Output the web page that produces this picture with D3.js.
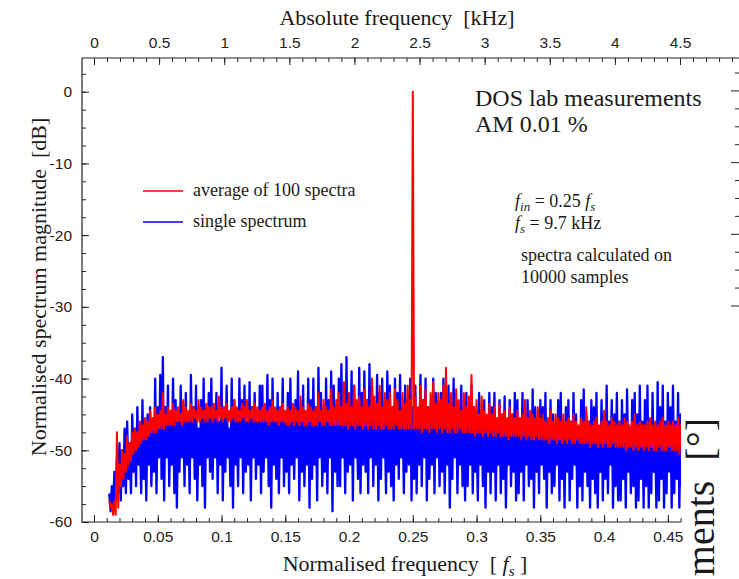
<!DOCTYPE html>
<html>
<head>
<meta charset="utf-8">
<script src="https://cdn.jsdelivr.net/npm/d3@7"></script>
<style>
  body { margin: 0; background: #fff; }
  svg { display: block; font-family: "Liberation Serif", "Times New Roman", serif; }
</style>
</head>
<body>
<svg id="chart"></svg>
<script>
// spectrum bins (normalised frequency), one high/low pair per bin
const binStart = 0.012;
const binStep = 0.002;

// single spectrum, upper and lower excursion per bin [dB]
const singleHigh = [
  -56, -55, -53, -51, -49, -50, -47, -46, -49, -45,
  -47, -44, -48, -43, -46, -45, -44, -47, -40, -44,
  -39.5, -37, -44, -41, -46, -40, -43, -45, -41, -44,
  -42, -46, -39.5, -44, -41, -47, -43, -40, -45, -42,
  -40, -45, -42, -46, -38.5, -44, -41, -47, -40, -43,
  -45, -40, -43, -41, -46, -40.5, -44, -42, -46, -41,
  -41, -45, -39.5, -43, -40, -46, -42, -44, -40, -45,
  -42, -40, -46, -43, -39, -44, -41, -45, -40, -43,
  -40, -44, -38.5, -42, -46, -40, -43, -39, -41, -45,
  -40, -38, -43, -37, -44, -39, -41, -45, -38.5, -42,
  -39, -43, -38, -41, -45, -39.5, -42, -40, -46, -39,
  -41, -44, -40, -42, -39.5, -45, -41, -43, -40, -44,
  -41, -45, -39.5, -43, -40, -44, -46, -40, -42, -44,
  -42, -40, -45, -41, -46, -40, -43, -45, -41, -44,
  -42, -46, -41, -44, -47, -42, -45, -43, -46, -42,
  -44, -42, -46, -43, -45, -42.5, -47, -43, -45, -42,
  -43, -46, -42, -45, -43, -47, -41.5, -44, -46, -43,
  -44, -42, -46, -43, -45, -47, -43, -42, -46, -44,
  -43, -46, -42, -45, -47, -43, -41.5, -45, -46, -43,
  -44, -42, -47, -43, -45, -41, -46, -43, -45, -42,
  -46, -43, -45, -41.5, -47, -43, -42, -45, -41, -46,
  -43, -41, -46, -42, -47, -40.5, -44, -41, -46, -42,
  -44, -41, -46, -42, -45
];
const singleLow = [
  -58.5, -58, -57, -56, -57, -55, -56, -54, -56, -53,
  -55, -52, -56, -54, -57, -52, -55, -53, -56, -51,
  -54, -57, -51, -55, -52, -56, -58, -53, -51, -55,
  -52, -56, -51, -54, -57, -52, -55, -58, -51, -53,
  -54, -51, -56, -52, -57, -53, -51, -55, -58, -52,
  -55, -51, -56, -53, -52, -57, -51, -54, -52, -56,
  -53, -51, -55, -58, -52, -54, -56, -51, -55, -53,
  -56, -52, -54, -51, -57, -53, -55, -52, -58, -54,
  -52, -57, -51, -55, -53, -56, -51, -58.5, -53, -55,
  -55, -51, -56, -53, -52, -57, -51, -54, -56, -52,
  -53, -56, -51, -55, -52, -57, -54, -51, -56, -53,
  -55, -57, -52, -54, -51, -56, -53, -52, -57, -54,
  -56, -52, -55, -51, -57, -54, -52, -56, -51, -55,
  -53, -56, -52, -58, -54, -51, -56, -52, -55, -57,
  -55, -52, -56, -53, -57, -52, -55, -58, -53, -56,
  -53, -57, -52, -56, -54, -58, -52, -55, -53, -57,
  -56, -53, -57, -52, -55, -54, -58, -53, -56, -52,
  -54, -58, -53, -56, -55, -52, -57, -54, -58, -53,
  -57, -54, -52, -58, -55, -57, -53, -55, -58, -54,
  -56, -58, -53, -57, -54, -56, -52, -58, -55, -57,
  -57, -54, -58, -53, -56, -55, -58, -57, -54, -58,
  -55, -58, -56, -53, -58, -57, -54, -58, -56, -53,
  -58, -56, -54, -58, -55
];

// average of 100 spectra, upper and lower excursion per bin [dB]
const averageHigh = [
  -57, -57.5, -57, -47.5, -52, -50, -50.5, -48, -49, -47.5,
  -47, -47.5, -46, -46.5, -45.5, -46, -44.5, -45.5, -44, -45,
  -44.5, -42, -45, -44, -44.5, -43.5, -44.5, -44, -45, -43,
  -44, -44.5, -43.5, -44, -44.5, -43, -44, -44.5, -43.5, -44,
  -44, -43.5, -44.5, -42.5, -44, -44, -43.5, -44.5, -44, -43,
  -44, -44.5, -43.5, -44, -43, -44.5, -44, -43.5, -44, -44.5,
  -44, -43.5, -44.5, -44, -43, -44, -44.5, -44, -43.5, -44.5,
  -44, -44.5, -43.5, -44, -44.5, -42.5, -44, -44.5, -43.5, -44,
  -44.5, -44, -42, -44.5, -43, -44, -44.5, -41.5, -44, -43,
  -42, -44, -40.5, -43.5, -42, -44, -41, -43, -42.5, -44,
  -41.5, -43, -44, -40, -42.5, -43.5, -41, -44, -42, -43,
  -42, -44, -41.5, -43, -44.5, -42, -43.5, -41, -43, 0,
  -42.5, -44, -41, -43, -41.5, -44, -42, -40.5, -43.5, -42,
  -43, -41, -38.5, -43.5, -42, -44, -41.5, -43, -44.5, -42,
  -44, -42.5, -39.5, -44, -43, -45, -42.5, -44.5, -45, -43.5,
  -45, -44, -45.5, -43.5, -45, -44.5, -45.5, -44, -45, -45.5,
  -44.5, -45.5, -45, -43, -45.5, -44.5, -45, -45.5, -44, -45.5,
  -45, -46, -45.5, -44.5, -46, -45, -45.5, -46, -45, -46,
  -45.5, -46, -45, -46, -46.5, -45.5, -46, -44, -46, -46.5,
  -46, -45.5, -46.5, -46, -44.5, -46, -46.5, -45.5, -46, -46.5,
  -46, -46.5, -45.5, -46, -46.5, -46, -45, -46.5, -46, -46.5,
  -46.5, -46, -45.5, -46.5, -46, -46.5, -46, -45.5, -46.5, -46,
  -46.5, -46, -46.5, -45.5, -46.5
];
const averageLow = [
  -58, -59, -59, -58, -55, -54, -53, -52, -51.5, -50.5,
  -50, -49.5, -49, -48.5, -48.5, -48, -47.5, -47.5, -47.5, -47,
  -47, -47, -46.5, -46.5, -46.5, -46.5, -46, -46, -46.5, -46,
  -46, -46, -46, -45.5, -46, -46, -45.5, -46, -46, -45.5,
  -46, -45.5, -46, -45.5, -46, -45.5, -46, -46, -45.5, -46,
  -46, -46, -45.5, -46, -46, -45.5, -46, -46, -46, -46,
  -46, -46, -46.5, -46, -46, -46, -46.5, -46, -46, -46.5,
  -46.5, -46, -46.5, -46, -46.5, -46, -46.5, -46.5, -46, -46.5,
  -46.5, -46.5, -46, -46.5, -46.5, -46, -46.5, -46.5, -46.5, -46.5,
  -46.5, -46.5, -46.5, -47, -46.5, -46.5, -47, -46.5, -46.5, -47,
  -46.5, -47, -46.5, -47, -47, -46.5, -47, -47, -46.5, -47,
  -47, -47, -46.5, -47, -47, -47, -47, -47, -47, -47,
  -47, -47, -47.5, -47, -47, -47.5, -47, -47, -47.5, -47,
  -47.5, -47, -47.5, -47.5, -47, -47.5, -47.5, -47, -47.5, -47.5,
  -47.5, -47.5, -47.5, -48, -47.5, -47.5, -48, -47.5, -48, -47.5,
  -48, -48, -47.5, -48, -48, -48, -48.5, -48, -48, -48,
  -48, -48.5, -48, -48.5, -48, -48.5, -48.5, -48, -48.5, -48.5,
  -48.5, -48.5, -49, -48.5, -48.5, -49, -48.5, -49, -48.5, -49,
  -48.5, -49, -49, -48.5, -49, -49, -49, -49, -49.5, -49,
  -49, -49.5, -49, -49.5, -49, -49.5, -49.5, -49, -49.5, -49.5,
  -49.5, -49.5, -50, -49.5, -49.5, -50, -49.5, -50, -49.5, -50,
  -49.5, -50, -49.5, -50, -50, -49.5, -50, -50, -50, -49.5,
  -50, -50, -50, -50.5, -50
];

const seriesNames = ['average of 100 spectra', 'single spectrum'];
const xTicks = [0, 0.05, 0.1, 0.15, 0.2, 0.25, 0.3, 0.35, 0.4, 0.45];
const yTicks = [-60, -50, -40, -30, -20, -10, 0];
const kHzTicks = [0, 0.5, 1, 1.5, 2, 2.5, 3, 3.5, 4, 4.5];
const noteLines = ['spectra calculated on', '10000 samples'];

class SpectrumChart {

  constructor(_config) {
    this.config = {
      parentElement: _config.parentElement,
      containerWidth: _config.containerWidth || 739,
      containerHeight: _config.containerHeight || 579,
      margin: { top: 58, bottom: 57, right: 58, left: 82 }
    };
    this.initVis();
  }

  initVis() {
    let vis = this;

    vis.width = vis.config.containerWidth - vis.config.margin.left - vis.config.margin.right;
    vis.height = vis.config.containerHeight - vis.config.margin.top - vis.config.margin.bottom;

    vis.svg = d3.select(vis.config.parentElement)
      .attr('width', vis.config.containerWidth)
      .attr('height', vis.config.containerHeight);

    vis.svg.append('defs').append('clipPath')
      .attr('id', 'plot-clip')
      .append('rect')
      .attr('width', vis.width)
      .attr('height', vis.height);

    vis.chart = vis.svg.append('g')
      .attr('transform', `translate(${vis.config.margin.left},${vis.config.margin.top})`);

    vis.xScale = d3.scaleLinear().domain([-0.0094, 0.4603]).range([0, vis.width]);
    vis.yScale = d3.scaleLinear().domain([-60, 4.7]).range([vis.height, 0]);
    // top axis in kHz, aligned to the normalised 0 and the 4.5 kHz mark
    vis.kHzScale = d3.scaleLinear().domain([0, 4.5]).range([vis.xScale(0), 598]);

    vis.updateVis();
  }

  updateVis() {
    let vis = this;

    const zigzag = (high, low) => {
      const pts = [];
      high.forEach((h, i) => {
        const f = binStart + i * binStep;
        pts.push([f, h]);
        pts.push([f + binStep / 2, low[i]]);
      });
      return pts;
    };

    const line = d3.line()
      .x(d => vis.xScale(d[0]))
      .y(d => vis.yScale(d[1]));

    const plot = vis.chart.append('g').attr('clip-path', 'url(#plot-clip)');

    plot.append('path')
      .datum(zigzag(singleHigh, singleLow))
      .attr('fill', 'none')
      .attr('stroke', '#0000ff')
      .attr('stroke-width', 2.3)
      .attr('stroke-linejoin', 'round')
      .attr('d', line);

    plot.append('path')
      .datum(zigzag(averageHigh, averageLow))
      .attr('fill', 'none')
      .attr('stroke', '#ff0000')
      .attr('stroke-width', 2)
      .attr('stroke-linejoin', 'round')
      .attr('d', line);

    vis.renderAxes();
    vis.renderText();
  }

  renderAxes() {
    let vis = this;
    const ink = '#222';

    const styleAxis = g => {
      g.select('.domain').remove();
      g.selectAll('line').attr('stroke', ink);
      g.selectAll('text').attr('fill', ink).style('font-size', '15.5px');
    };

    // bottom
    vis.chart.append('g')
      .attr('transform', `translate(0,${vis.height})`)
      .call(d3.axisBottom(vis.xScale).tickValues(d3.range(0, 0.4605, 0.01)).tickSize(-4).tickFormat(''))
      .call(styleAxis);
    vis.chart.append('g')
      .attr('transform', `translate(0,${vis.height})`)
      .call(d3.axisBottom(vis.xScale).tickValues(xTicks).tickSize(-7).tickPadding(9).tickFormat(d => String(d)))
      .call(styleAxis);

    // left
    vis.chart.append('g')
      .call(d3.axisLeft(vis.yScale).tickValues(d3.range(-60, 4.7, 2.5)).tickSize(-4).tickFormat(''))
      .call(styleAxis);
    vis.chart.append('g')
      .call(d3.axisLeft(vis.yScale).tickValues(yTicks).tickSize(-7).tickPadding(10).tickFormat(d => String(d)))
      .call(styleAxis);

    // top, kHz
    vis.chart.append('g')
      .call(d3.axisTop(vis.kHzScale).tickValues(d3.range(0, 4.95, 0.1)).tickSize(-4).tickFormat(''))
      .call(styleAxis);
    vis.chart.append('g')
      .call(d3.axisTop(vis.kHzScale).tickValues(kHzTicks).tickSize(-7).tickPadding(10).tickFormat(d => String(d)))
      .call(styleAxis);

    // frame
    vis.chart.append('path')
      .attr('d', `M${vis.width + vis.config.margin.right},0H0V${vis.height}H${vis.width}`)
      .attr('fill', 'none')
      .attr('stroke', ink)
      .attr('stroke-width', 1.2);

    // ticks of the neighbouring panel, cut by the page edge
    const sideScale = d3.scaleLinear().domain([0, 13]).range([15, 248]);
    vis.chart.append('g')
      .selectAll('line')
      .data(d3.range(0, 14))
      .join('line')
      .attr('x1', vis.width + vis.config.margin.right)
      .attr('x2', d => vis.width + vis.config.margin.right - (d % 4 === 1 ? 8 : 4))
      .attr('y1', d => sideScale(d))
      .attr('y2', d => sideScale(d))
      .attr('stroke', ink);
  }

  renderText() {
    let vis = this;
    const ink = '#1a1a1a';

    vis.svg.append('text')
      .attr('x', 397).attr('y', 25)
      .attr('text-anchor', 'middle')
      .attr('fill', ink)
      .style('font-size', '22px')
      .style('white-space', 'pre')
      .text('Absolute frequency  [kHz]');

    const xTitle = vis.svg.append('text')
      .attr('x', 405).attr('y', 571)
      .attr('text-anchor', 'middle')
      .attr('fill', ink)
      .style('font-size', '22px')
      .style('white-space', 'pre');
    xTitle.append('tspan').text('Normalised frequency  [ ');
    xTitle.append('tspan').style('font-style', 'italic').text('f');
    xTitle.append('tspan').attr('dy', 5).style('font-style', 'italic').style('font-size', '15px').text('s');
    xTitle.append('tspan').attr('dy', -5).text(' ]');

    vis.svg.append('text')
      .attr('transform', 'translate(46,287) rotate(-90)')
      .attr('text-anchor', 'middle')
      .attr('fill', ink)
      .style('font-size', '22px')
      .style('white-space', 'pre')
      .text('Normalised spectrum magnitude  [dB]');

    // neighbouring panel's axis title, at the page edge
    vis.svg.append('text')
      .attr('transform', 'translate(714,418) rotate(-90)')
      .attr('text-anchor', 'end')
      .attr('fill', ink)
      .style('font-size', '40px')
      .style('white-space', 'pre')
      .text('ments  [°]');

    vis.svg.append('text')
      .attr('x', 475).attr('y', 106)
      .attr('fill', ink)
      .style('font-size', '24px')
      .text('DOS lab measurements');
    vis.svg.append('text')
      .attr('x', 475).attr('y', 132)
      .attr('fill', ink)
      .style('font-size', '24px')
      .text('AM 0.01 %');

    const fin = vis.svg.append('text')
      .attr('x', 515).attr('y', 207)
      .attr('fill', ink)
      .style('font-size', '18px');
    fin.append('tspan').style('font-style', 'italic').text('f');
    fin.append('tspan').attr('dy', 4).style('font-style', 'italic').style('font-size', '13px').text('in');
    fin.append('tspan').attr('dy', -4).text(' = 0.25 ');
    fin.append('tspan').style('font-style', 'italic').text('f');
    fin.append('tspan').attr('dy', 4).style('font-style', 'italic').style('font-size', '13px').text('s');

    const fs = vis.svg.append('text')
      .attr('x', 515).attr('y', 229)
      .attr('fill', ink)
      .style('font-size', '18px');
    fs.append('tspan').style('font-style', 'italic').text('f');
    fs.append('tspan').attr('dy', 4).style('font-style', 'italic').style('font-size', '13px').text('s');
    fs.append('tspan').attr('dy', -4).text(' = 9.7 kHz');

    vis.svg.append('g')
      .selectAll('text')
      .data(noteLines)
      .join('text')
      .attr('x', 521)
      .attr('y', (d, i) => 261 + i * 22)
      .attr('fill', ink)
      .style('font-size', '18px')
      .text(d => d);

    // legend
    const legend = vis.svg.append('g')
      .attr('transform', 'translate(143,191)')
      .selectAll('g')
      .data(seriesNames)
      .join('g')
      .attr('transform', (d, i) => `translate(0,${i * 31})`);
    legend.append('line')
      .attr('x1', 0).attr('x2', 40)
      .attr('stroke', (d, i) => i === 0 ? '#ff0000' : '#0000ff')
      .attr('stroke-width', 1.5);
    legend.append('text')
      .attr('x', 50).attr('y', 5)
      .attr('fill', ink)
      .style('font-size', '18px')
      .text(d => d);
  }
}

new SpectrumChart({ parentElement: '#chart' });
</script>
</body>
</html>
